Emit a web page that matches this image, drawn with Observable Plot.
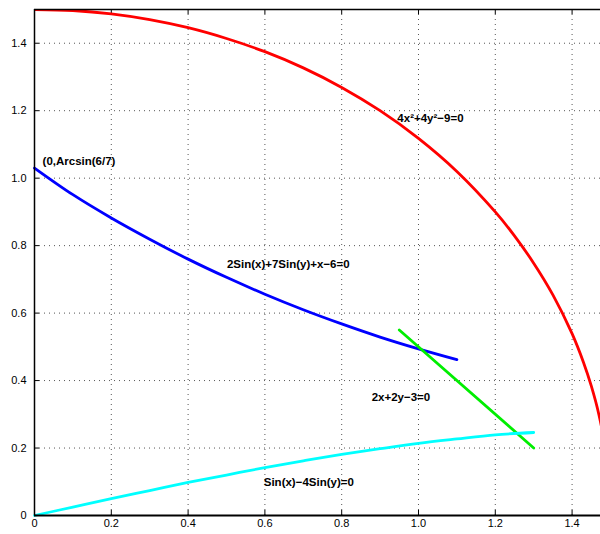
<!DOCTYPE html>
<html><head><meta charset="utf-8">
<script src="https://cdn.jsdelivr.net/npm/d3@7"></script>
<script src="https://cdn.jsdelivr.net/npm/@observablehq/plot@0.6"></script>
<style>body{margin:0;background:#fff} svg{display:block}</style>
</head><body><div id="chart"></div>
<script>
// Curve samples
const redX = [0, 0.1, 0.2, 0.3, 0.4, 0.5, 0.6, 0.7, 0.8, 0.9, 1.0, 1.1, 1.2, 1.25, 1.3, 1.35, 1.4, 1.43, 1.45, 1.47, 1.49, 1.5];
const redY = [1.5, 1.497, 1.487, 1.47, 1.446, 1.414, 1.375, 1.327, 1.269, 1.2, 1.118, 1.02, 0.9, 0.829, 0.748, 0.654, 0.539, 0.453, 0.384, 0.298, 0.173, 0];
const blueX = [0, 0.1, 0.2, 0.3, 0.4, 0.5, 0.6, 0.7, 0.8, 0.9, 1.0, 1.1];
const blueY = [1.03, 0.951, 0.882, 0.819, 0.76, 0.706, 0.656, 0.61, 0.568, 0.529, 0.494, 0.462];
const greenX = [0.95, 1.3];
const greenY = [0.55, 0.2];
const cyanX = [0, 0.1, 0.2, 0.3, 0.4, 0.5, 0.6, 0.7, 0.8, 0.9, 1.0, 1.1, 1.2, 1.3];
const cyanY = [0, 0.025, 0.05, 0.074, 0.098, 0.12, 0.142, 0.162, 0.181, 0.198, 0.214, 0.227, 0.239, 0.246];

const labelText = ["(0,Arcsin(6/7)", "4x²+4y²−9=0", "2Sin(x)+7Sin(y)+x−6=0", "2x+2y−3=0", "Sin(x)−4Sin(y)=0"];
const labelX = [0.021, 0.945, 0.501, 0.878, 0.597];
const labelY = [1.049, 1.176, 0.744, 0.35, 0.098];

const xTicks = [0, 0.2, 0.4, 0.6, 0.8, 1.0, 1.2, 1.4];
const yTicks = [0, 0.2, 0.4, 0.6, 0.8, 1.0, 1.2, 1.4];

const pts = (xs, ys) => xs.map((x, i) => ({x, y: ys[i]}));
const labels = labelText.map((t, i) => ({t, x: labelX[i], y: labelY[i]}));
const fmt = d => d === 0 ? "0" : d.toFixed(1);
const font = "Liberation Sans, Arial, Helvetica, sans-serif";
const lw = 2.8;

const chart = Plot.plot({
  width: 600, height: 534,
  marginLeft: 34, marginRight: 0, marginTop: 9, marginBottom: 19,
  style: {fontFamily: font, background: "#fff"},
  x: {domain: [0, 1.474], label: null},
  y: {domain: [0, 1.5], label: null},
  marks: [
    Plot.gridX(xTicks, {stroke: "#555", strokeOpacity: 1, strokeDasharray: "1,4"}),
    Plot.gridY(yTicks, {stroke: "#555", strokeOpacity: 1, strokeDasharray: "1,4"}),
    Plot.axisX({ticks: xTicks, tickFormat: fmt, tickSize: 0, tickPadding: 4, fontSize: 11, fill: "#000"}),
    Plot.axisY({ticks: yTicks, tickFormat: fmt, tickSize: 0, tickPadding: 8, fontSize: 11, fill: "#000"}),
    Plot.ruleX(xTicks, {y1: 0, y2: 0.015, stroke: "#000"}),
    Plot.ruleX(xTicks, {y1: 1.5, y2: 1.485, stroke: "#000"}),
    Plot.ruleY(yTicks, {x1: 0, x2: 0.013, stroke: "#000"}),
    Plot.line(pts(redX, redY), {x: "x", y: "y", stroke: "#ff0000", strokeWidth: lw, curve: "catmull-rom", clip: true}),
    Plot.line(pts(blueX, blueY), {x: "x", y: "y", stroke: "#0000ff", strokeWidth: lw, curve: "catmull-rom"}),
    Plot.line(pts(greenX, greenY), {x: "x", y: "y", stroke: "#00ee00", strokeWidth: lw}),
    Plot.line(pts(cyanX, cyanY), {x: "x", y: "y", stroke: "#00ffff", strokeWidth: lw, curve: "catmull-rom"}),
    Plot.ruleY([0], {stroke: "#000", strokeWidth: 2}),
    Plot.ruleY([1.5], {stroke: "#000", strokeWidth: 1.5}),
    Plot.ruleX([0], {stroke: "#000", strokeWidth: 1.5}),
    Plot.text(labels, {x: "x", y: "y", text: "t", textAnchor: "start", fontWeight: "bold", fontSize: 11.5, fill: "#000"})
  ]
});
document.getElementById("chart").append(chart);
</script>
</body></html>
